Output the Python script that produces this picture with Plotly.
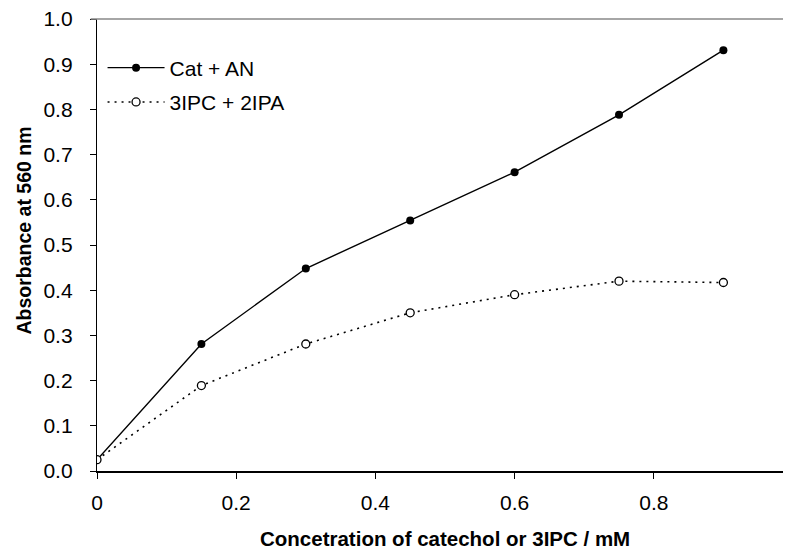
import plotly.graph_objects as go

conc = [0, 0.15, 0.3, 0.45, 0.6, 0.75, 0.9]
cat_an = [0.025, 0.281, 0.448, 0.554, 0.661, 0.788, 0.931]
ipc_ipa = [0.025, 0.189, 0.281, 0.350, 0.390, 0.420, 0.417]

x_ticks = [0, 0.2, 0.4, 0.6, 0.8, 1.0]
x_ticklabels = ["0", "0.2", "0.4", "0.6", "0.8", "1.0"]
y_ticks = [round(0.1 * i, 1) for i in range(11)]
y_ticklabels = [f"{v:.1f}" for v in y_ticks]

FONT = "Liberation Sans, Arial, sans-serif"

# The page body has an 8px default margin, so the figure is 8px smaller
# than the window and its margins are shifted accordingly.
fig = go.Figure()
fig.add_trace(go.Scatter(
    x=conc, y=cat_an, name="Cat + AN", mode="lines+markers",
    line=dict(color="black", width=1.4),
    marker=dict(symbol="circle", size=8, color="black"),
    legendgroup="a",
))
fig.add_trace(go.Scatter(
    x=conc, y=ipc_ipa, name="3IPC + 2IPA", mode="lines+markers",
    line=dict(color="black", width=1.6, dash="2px,5px"),
    marker=dict(symbol="circle", size=8, color="white",
                line=dict(color="black", width=1.3)),
    legendgroup="b",
))

fig.update_layout(
    width=783, height=542,
    margin=dict(l=89, r=0, t=11, b=79, pad=0),
    paper_bgcolor="white", plot_bgcolor="white",
    font=dict(family=FONT, size=21, color="black"),
    showlegend=True,
    legend=dict(x=0.008, y=0.937, xanchor="left", yanchor="top",
                bgcolor="rgba(0,0,0,0)", itemwidth=57, tracegroupgap=4,
                font=dict(size=21)),
    xaxis=dict(range=[0, 694 / 696], tickvals=x_ticks, ticktext=x_ticklabels,
               showline=True, linecolor="black", linewidth=2,
               ticks="outside", ticklen=6, tickcolor="black", tickwidth=1,
               showgrid=False, zeroline=False, ticklabelstandoff=6,
               ticklabeloverflow="allow", tickfont=dict(size=21)),
    yaxis=dict(range=[0, 1], tickvals=y_ticks, ticktext=y_ticklabels,
               showline=True, linecolor="black", linewidth=1.3,
               ticks="outside", ticklen=6, tickcolor="black", tickwidth=1,
               showgrid=False, zeroline=False, ticklabelstandoff=13,
               ticklabeloverflow="allow", tickfont=dict(size=21)),
    shapes=[dict(type="line", xref="paper", yref="paper",
                 x0=-0.009, x1=1, y0=1, y1=1,
                 line=dict(color="#888888", width=1.5))],
    annotations=[
        dict(text="<b>Absorbance at 560 nm</b>", textangle=-90,
             xref="paper", yref="paper", x=(23.5 - 97) / 694, y=(471 - 231) / 452,
             xanchor="center", yanchor="middle", showarrow=False,
             font=dict(size=19.5)),
        dict(text="<b>Concetration of catechol or 3IPC / mM</b>",
             xref="paper", yref="paper", x=0.501, y=(471 - 552) / 452,
             xanchor="center", yanchor="bottom", showarrow=False,
             font=dict(size=20.5)),
    ],
)

fig.write_html("out.html")
